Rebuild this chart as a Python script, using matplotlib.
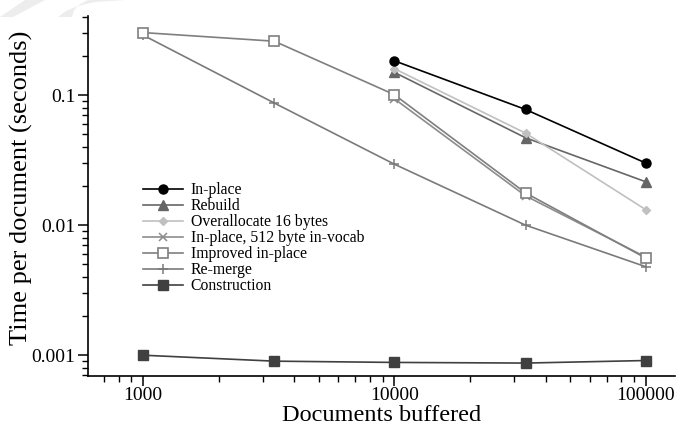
import matplotlib.pyplot as plt
from matplotlib.patches import Polygon
from matplotlib.ticker import LogLocator, NullFormatter, FixedLocator, FixedFormatter

plt.rcParams['font.family'] = ['Liberation Serif', 'DejaVu Serif']

# documents buffered (x) and time per document in seconds (y)
docs_short = [10000, 33333, 100000]
docs_full = [1000, 3333, 10000, 33333, 100000]

in_place = [0.184, 0.0776, 0.0301]
rebuild = [0.150, 0.047, 0.0216]
overallocate = [0.160, 0.051, 0.0132]
in_place_512 = [0.094, 0.0168, 0.0057]
improved = [0.303, 0.26, 0.101, 0.0177, 0.0056]
re_merge = [0.29, 0.087, 0.0295, 0.0100, 0.0048]
construction = [0.0010, 0.00090, 0.00088, 0.00087, 0.00091]

x_ticks = [1000, 10000, 100000]
x_tick_labels = ['1000', '10000', '100000']
y_ticks = [0.001, 0.01, 0.1]
y_tick_labels = ['0.001', '0.01', '0.1']

fig = plt.figure(figsize=(6.76, 4.26), dpi=100)
ax = fig.add_axes([0.130, 0.117, 0.8685, 0.845])

ax.plot(docs_short, in_place, color='black', lw=1.2, marker='o', ms=6.5,
        label='In-place', zorder=7)
ax.plot(docs_short, rebuild, color='#666666', lw=1.2, marker='^', ms=6.5,
        label='Rebuild', zorder=5)
ax.plot(docs_short, overallocate, color='#c0c0c0', lw=1.2, marker='D', ms=4.5,
        label='Overallocate 16 bytes', zorder=6)
ax.plot(docs_short, in_place_512, color='#8c8c8c', lw=1.2, marker='x', ms=6,
        mew=1.1, label='In-place, 512 byte in-vocab', zorder=4)
ax.plot(docs_full, improved, color='#7f7f7f', lw=1.2, marker='s', ms=6.5,
        mfc='white', mew=1.2, label='Improved in-place', zorder=4)
ax.plot(docs_full, re_merge, color='#7a7a7a', lw=1.2, marker='+', ms=7,
        mew=1.1, label='Re-merge', zorder=3)
ax.plot(docs_full, construction, color='#404040', lw=1.2, marker='s', ms=6.5,
        label='Construction', zorder=3)

ax.set_xscale('log')
ax.set_yscale('log')
ax.set_xlim(604, 131000)
ax.set_ylim(6.9e-4, 0.405)

ax.xaxis.set_major_locator(FixedLocator(x_ticks))
ax.xaxis.set_major_formatter(FixedFormatter(x_tick_labels))
ax.xaxis.set_minor_locator(LogLocator(base=10, subs=range(2, 10)))
ax.xaxis.set_minor_formatter(NullFormatter())
ax.yaxis.set_major_locator(FixedLocator(y_ticks))
ax.yaxis.set_major_formatter(FixedFormatter(y_tick_labels))
ax.yaxis.set_minor_locator(LogLocator(base=10, subs=range(2, 10)))
ax.yaxis.set_minor_formatter(NullFormatter())

ax.tick_params(which='major', direction='out', length=7, width=1.1,
               labelsize=14, pad=2)
ax.tick_params(axis='x', which='major', pad=1)
ax.tick_params(which='minor', direction='out', length=4, width=1.0)

for side in ['top', 'right']:
    ax.spines[side].set_visible(False)
for side in ['left', 'bottom']:
    ax.spines[side].set_linewidth(1.2)

ax.set_xlabel('Documents buffered', fontsize=17.5)
ax.set_ylabel('Time per document (seconds)', fontsize=19)
ax.xaxis.set_label_coords(0.5, -0.080)
ax.yaxis.set_label_coords(-0.094, 0.522)

ax.legend(loc='upper left', bbox_to_anchor=(0.211, 0.572),
          bbox_transform=fig.transFigure, frameon=False, fontsize=11.3,
          handlelength=2.6, handletextpad=0.45, labelspacing=0.0,
          borderpad=0, borderaxespad=0)

# faint grey shapes in the top left corner
W, H = 676, 426


def px(points):
    return [(x / W, 1 - y / H) for x, y in points]


fig.add_artist(Polygon(px([(0, 17), (13, 17), (45, 0), (25, 0)]),
                       closed=True, transform=fig.transFigure,
                       facecolor='#ededed', edgecolor='none', zorder=0))
fig.add_artist(Polygon(px([(58, 17), (66, 11), (78, 6), (95, 2), (125, 0),
                           (88, 0), (80, 4), (74, 10), (72, 17)]),
                       closed=True, transform=fig.transFigure,
                       facecolor='#ededed', edgecolor='none', zorder=0))

fig.savefig('out.png', dpi=100)
